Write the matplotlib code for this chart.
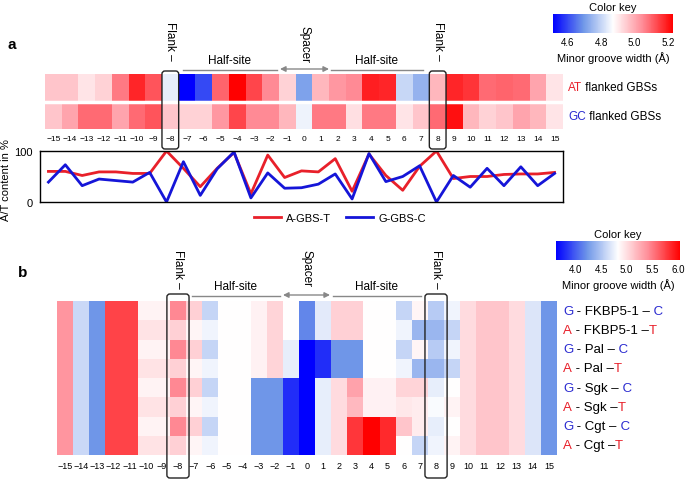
import numpy as np
import matplotlib
matplotlib.use('Agg')
import matplotlib.pyplot as plt
from matplotlib.colors import LinearSegmentedColormap
from matplotlib.patches import FancyBboxPatch

plt.rcParams['font.family'] = ['Liberation Sans', 'DejaVu Sans']

# ---- data ----
positions = list(range(-15, 16))
pos_labels = ['\u2212%d' % -p if p < 0 else str(p) for p in positions]

# panel a: minor groove width (A)
mgw_at = [4.96, 4.96, 4.91, 4.94, 5.07, 5.18, 5.12, 4.84, 4.51, 4.60, 5.10, 5.23, 5.14, 5.05, 4.94, 4.71,
          4.98, 5.03, 5.05, 5.19, 5.18, 4.80, 4.74, 4.98, 5.18, 5.16, 5.09, 5.10, 5.09, 5.01, 4.91]
mgw_gc = [4.96, 5.01, 5.09, 5.09, 5.01, 5.09, 5.12, 4.96, 4.94, 4.94, 5.03, 5.14, 5.05, 5.05, 4.98, 4.85,
          5.07, 5.07, 4.92, 5.07, 5.07, 4.91, 4.96, 5.09, 5.21, 4.98, 4.94, 4.96, 5.01, 4.98, 4.91]
rows_a = [[('AT', '#e8202a'), (' flanked GBSs', 'black')],
          [('GC', '#2a2ad0'), (' flanked GBSs', 'black')]]

# panel a: A/T content in %
at_A_GBS_T = [60, 60, 52, 59, 59, 56, 56, 100, 66, 30, 66, 97, 16, 92, 48, 61,
              59, 85, 21, 94, 52, 23, 70, 100, 46, 50, 50, 54, 55, 55, 58]
at_G_GBS_C = [39, 73, 32, 45, 42, 39, 58, 0, 79, 13, 65, 98, 8, 57, 27, 28,
              35, 55, 6, 95, 40, 50, 71, 0, 52, 29, 66, 32, 69, 32, 56]

# panel b: minor groove width per GBS
mgw_fkbp5_G = [5.37, 4.61, 4.23, 5.74, 5.74, 4.89, 4.89, 5.44, 5.07, 4.59, 4.83, 4.83, 4.90, 5.05, 4.83, 4.16,
               4.71, 5.07, 5.07, 4.83, 4.83, 4.59, 4.88, 4.53, 4.77, 5.01, 5.13, 5.13, 5.01, 4.68, 4.23]
mgw_fkbp5_A = [5.37, 4.61, 4.23, 5.74, 5.74, 4.98, 4.98, 5.07, 4.88, 4.77, 4.83, 4.83, 4.90, 5.05, 4.83, 4.16,
               4.71, 5.07, 5.07, 4.83, 4.83, 4.77, 4.41, 4.41, 4.59, 5.01, 5.13, 5.13, 5.01, 4.68, 4.23]
mgw_pal_G = [5.37, 4.61, 4.23, 5.74, 5.74, 4.89, 4.89, 5.44, 5.07, 4.59, 4.83, 4.83, 4.90, 5.05, 4.73, 3.62,
             3.80, 4.23, 4.23, 4.83, 4.83, 4.59, 4.88, 4.53, 4.77, 5.01, 5.13, 5.13, 5.01, 4.68, 4.23]
mgw_pal_A = [5.37, 4.61, 4.23, 5.74, 5.74, 4.98, 4.98, 5.07, 4.88, 4.77, 4.83, 4.83, 4.90, 5.05, 4.73, 3.62,
             3.80, 4.23, 4.23, 4.83, 4.83, 4.77, 4.41, 4.41, 4.59, 5.01, 5.13, 5.13, 5.01, 4.68, 4.23]
mgw_sgk_G = [5.37, 4.61, 4.23, 5.74, 5.74, 4.89, 4.89, 5.44, 5.07, 4.59, 4.83, 4.83, 4.23, 4.23, 3.80, 3.62,
             4.73, 5.01, 5.31, 4.90, 4.90, 5.05, 5.05, 4.73, 4.83, 5.01, 5.13, 5.13, 5.01, 4.68, 4.23]
mgw_sgk_A = [5.37, 4.61, 4.23, 5.74, 5.74, 4.98, 4.98, 5.07, 4.88, 4.77, 4.83, 4.83, 4.23, 4.23, 3.80, 3.62,
             4.73, 5.01, 5.19, 4.90, 4.90, 4.95, 4.93, 4.81, 4.89, 5.01, 5.13, 5.13, 5.01, 4.68, 4.23]
mgw_cgt_G = [5.37, 4.61, 4.23, 5.74, 5.74, 4.89, 4.89, 5.44, 5.07, 4.59, 4.83, 4.83, 4.23, 4.23, 3.80, 3.62,
             4.73, 5.01, 5.80, 6.04, 5.86, 5.13, 4.93, 4.73, 4.83, 5.01, 5.13, 5.13, 5.01, 4.68, 4.23]
mgw_cgt_A = [5.37, 4.61, 4.23, 5.74, 5.74, 4.98, 4.98, 5.07, 4.88, 4.77, 4.83, 4.83, 4.23, 4.23, 3.80, 3.62,
             4.73, 5.01, 5.80, 6.04, 5.86, 4.83, 4.59, 4.77, 4.89, 5.01, 5.13, 5.13, 5.01, 4.68, 4.23]

RED = '#e8202a'
BLUE = '#2a2ad0'
rows_b = [[('G', BLUE), (' - FKBP5-1 \u2013', 'black'), (' C', BLUE)],
          [('A', RED), (' - FKBP5-1 \u2013', 'black'), ('T', RED)],
          [('G', BLUE), (' - Pal \u2013', 'black'), (' C', BLUE)],
          [('A', RED), (' - Pal \u2013', 'black'), ('T', RED)],
          [('G', BLUE), (' - Sgk \u2013', 'black'), (' C', BLUE)],
          [('A', RED), (' - Sgk \u2013', 'black'), ('T', RED)],
          [('G', BLUE), (' - Cgt \u2013', 'black'), (' C', BLUE)],
          [('A', RED), (' - Cgt \u2013', 'black'), ('T', RED)]]

cmap = LinearSegmentedColormap.from_list(
    'key', [(0, '#0000ff'), (0.25, '#6e96e8'), (0.5, '#ffffff'), (0.75, '#ff8a95'), (1, '#ff0000')])

# ---- figure, positions in pixels ----
W, H = 685, 481
fig = plt.figure(figsize=(W / 100, H / 100), dpi=100)


def px(l, t, r, b):
    return [l / W, 1 - b / H, (r - l) / W, (b - t) / H]


xe = np.arange(-15.5, 16, 1.0)

# heatmap a
ha_box = (45, 75, 563, 130)
ax_a = fig.add_axes(px(*ha_box))
m_a = ax_a.pcolormesh(xe, [0, 1, 2], np.array([mgw_at, mgw_gc]), cmap=cmap, vmin=4.51, vmax=5.23)
ax_a.axhline(1, color='white', lw=2.5)
ax_a.set_ylim(2, 0)
ax_a.set_xlim(-15.5, 15.5)
ax_a.set_xticks(positions)
ax_a.set_xticklabels(pos_labels, fontsize=6)
ax_a.set_yticks([])
ax_a.tick_params(length=0, pad=4)
for s in ax_a.spines.values():
    s.set_visible(False)

# line plot a
ax_l = fig.add_axes(px(40, 152, 563, 203))
ax_l.plot(positions, at_A_GBS_T, color=RED, lw=2, label='A-GBS-T')
ax_l.plot(positions, at_G_GBS_C, color='#1515d8', lw=2, label='G-GBS-C')
ax_l.set_xlim(-15.5, 15.5)
ax_l.set_ylim(0, 100)
ax_l.set_xticks([])
ax_l.set_yticks([0, 100])
ax_l.tick_params(length=0, pad=5, labelsize=8)
ax_l.set_ylabel('A/T content in %', fontsize=8)
ax_l.yaxis.set_label_coords(-0.056, 0.45)
for s in ax_l.spines.values():
    s.set_linewidth(1)
fig.legend(loc='center', bbox_to_anchor=(340 / W, 1 - 219 / H), ncol=2, frameon=False,
           fontsize=8, handlelength=2.4, columnspacing=1.3, handletextpad=0.5)

# colorbar a
cax_a = fig.add_axes(px(553, 15, 673, 34))
cb_a = fig.colorbar(m_a, cax=cax_a, orientation='horizontal', ticks=[4.6, 4.8, 5.0, 5.2])
cb_a.outline.set_visible(False)
cax_a.tick_params(length=0, pad=3, labelsize=7)
cax_a.set_title('Color key', fontsize=8, pad=3)
cax_a.set_xlabel('Minor groove width (\u00c5)', fontsize=8, labelpad=3)

# heatmap b
hb_box = (57, 302, 557, 456)
ax_b = fig.add_axes(px(*hb_box))
data_b = np.array([mgw_fkbp5_G, mgw_fkbp5_A, mgw_pal_G, mgw_pal_A,
                   mgw_sgk_G, mgw_sgk_A, mgw_cgt_G, mgw_cgt_A])
m_b = ax_b.pcolormesh(xe, np.arange(9), data_b, cmap=cmap, vmin=3.62, vmax=6.04)
ax_b.set_ylim(8, 0)
ax_b.set_xlim(-15.5, 15.5)
ax_b.set_xticks(positions)
ax_b.set_xticklabels(pos_labels, fontsize=6.5)
ax_b.set_yticks([])
ax_b.tick_params(length=0, pad=4)
for s in ax_b.spines.values():
    s.set_visible(False)

# colorbar b
cax_b = fig.add_axes(px(556, 242, 680, 261))
cb_b = fig.colorbar(m_b, cax=cax_b, orientation='horizontal', ticks=[4.0, 4.5, 5.0, 5.5, 6.0])
cb_b.outline.set_visible(False)
cax_b.tick_params(length=0, pad=3, labelsize=7)
cax_b.set_title('Color key', fontsize=8, pad=3)
cax_b.set_xlabel('Minor groove width (\u00c5)', fontsize=8, labelpad=3)

# ---- overlay for annotations (pixel units) ----
ov = fig.add_axes([0, 0, 1, 1])
ov.set_xlim(0, W)
ov.set_ylim(H, 0)
ov.axis('off')
ov.patch.set_alpha(0)
ov.set_zorder(10)


def col_x(box, pos):
    l, t, r, b = box
    return l + (pos + 15.5) / 31 * (r - l)


def flank_box(box, pos, top, bottom, extra=0):
    x0 = col_x(box, pos - 0.5) - extra
    x1 = col_x(box, pos + 0.5) + extra
    ov.add_patch(FancyBboxPatch((x0, top), x1 - x0, bottom - top,
                                boxstyle='round,pad=0,rounding_size=3',
                                fc='none', ec='#222222', lw=1))
    return (x0 + x1) / 2


def motif_marks(y_line, y_text, y_lab, y_sp, x_flank_l, x_flank_r, hs1, sp, hs2):
    g = '#888888'
    ov.text(x_flank_l, y_lab, 'Flank \u2013', rotation=270, ha='center', va='top', fontsize=8.5)
    ov.text(x_flank_r, y_lab, 'Flank \u2013', rotation=270, ha='center', va='top', fontsize=8.5)
    ov.plot(hs1, [y_line, y_line], color=g, lw=1)
    ov.plot(hs2, [y_line, y_line], color=g, lw=1)
    ov.text(sum(hs1) / 2, y_text, 'Half-site', ha='center', va='center', fontsize=8.5)
    ov.text(sum(hs2) / 2, y_text, 'Half-site', ha='center', va='center', fontsize=8.5)
    ov.annotate('', xy=(sp[0], y_line - 1), xytext=(sp[1], y_line - 1),
                arrowprops=dict(arrowstyle='<|-|>', color=g, lw=1, mutation_scale=8,
                                shrinkA=0, shrinkB=0))
    ov.text(sum(sp) / 2, y_sp, 'Spacer', rotation=270, ha='center', va='top', fontsize=8.5)


def colored_label(x, y, parts, size):
    renderer = fig.canvas.get_renderer()
    for txt, col in parts:
        t = ov.text(x, y, txt, color=col, fontsize=size, ha='left', va='center')
        x += t.get_window_extent(renderer).width


# panel a
ov.text(8, 45, 'a', fontsize=11, fontweight='bold', va='center')
xl = flank_box(ha_box, -8, 72, 150)
xr = flank_box(ha_box, 8, 72, 150)
motif_marks(71, 61, 22, 26, xl, xr, (183, 277), (280, 329), (331, 423))
for i, parts in enumerate(rows_a):
    colored_label(568, 88 + i * 29, parts, 8.5)

# panel b
ov.text(18, 273, 'b', fontsize=11, fontweight='bold', va='center')
xl = flank_box(hb_box, -8, 295, 479, extra=3)
xr = flank_box(hb_box, 8, 295, 479, extra=3)
motif_marks(297, 287, 250, 250, xl, xr, (192, 280), (283, 330), (333, 421))
row_h = (hb_box[3] - hb_box[1]) / 8
for i, parts in enumerate(rows_b):
    colored_label(563, hb_box[1] + row_h * (i + 0.5), parts, 9.5)

fig.savefig('out.png', dpi=100)
